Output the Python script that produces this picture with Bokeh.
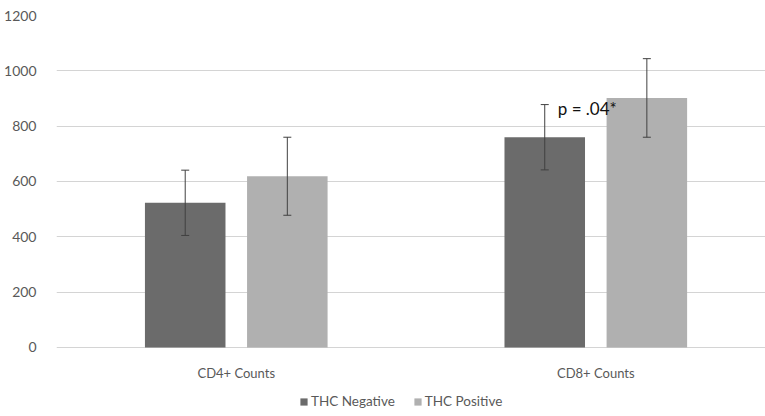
from bokeh.plotting import figure
from bokeh.models import (ColumnDataSource, Whisker, TeeHead, FixedTicker, Legend,
                          LegendItem, Range1d, LinearAxis)
from bokeh.embed import file_html
from bokeh.resources import INLINE
from bokeh.core.properties import value

categories = ["CD4+ Counts", "CD8+ Counts"]
series = ["THC Negative", "THC Positive"]
thc_negative = [523, 760]
thc_negative_err = [118, 118]
thc_positive = [619, 902]
thc_positive_err = [141, 142]
y_ticks = [0, 200, 400, 600, 800, 1000, 1200]
annotation_text = "p = .04*"

FONT = "Lato"
NEG_COLOR = "#6b6b6b"
POS_COLOR = "#b0b0b0"
OFFSET = 0.142
BAR_W = 0.224

centers = [i + 0.5 for i in range(len(categories))]
neg_x = [c - OFFSET for c in centers]
pos_x = [c + OFFSET for c in centers]

src_neg = ColumnDataSource(dict(
    x=neg_x, top=thc_negative,
    upper=[v + e for v, e in zip(thc_negative, thc_negative_err)],
    lower=[v - e for v, e in zip(thc_negative, thc_negative_err)],
))
src_pos = ColumnDataSource(dict(
    x=pos_x, top=thc_positive,
    upper=[v + e for v, e in zip(thc_positive, thc_positive_err)],
    lower=[v - e for v, e in zip(thc_positive, thc_positive_err)],
))

# frame spans to bottom of canvas; value 0 sits 69px above the bottom
p = figure(width=765, height=416, output_backend="svg", toolbar_location=None,
           x_range=Range1d(0, 1.972), y_range=Range1d(-249.4, 1200),
           x_axis_location=None,
           min_border_left=56, min_border_right=0, min_border_top=15, min_border_bottom=0)
p.outline_line_color = None
p.background_fill_color = "white"

r_neg = p.vbar(x="x", top="top", bottom=0, width=BAR_W, source=src_neg,
               fill_color=NEG_COLOR, line_color=None)
r_pos = p.vbar(x="x", top="top", bottom=0, width=BAR_W, source=src_pos,
               fill_color=POS_COLOR, line_color=None)

for src in (src_neg, src_pos):
    w = Whisker(base="x", upper="upper", lower="lower", source=src,
                line_color="#404040", line_width=1, level="overlay",
                upper_head=TeeHead(size=8, line_color="#404040", line_width=1),
                lower_head=TeeHead(size=8, line_color="#404040", line_width=1))
    p.add_layout(w)

# significance annotation next to CD8+ THC Negative whisker top
p.text(x=[neg_x[1]], y=[src_neg.data["upper"][1]], text=[annotation_text],
       x_offset=13, y_offset=4, text_baseline="middle", text_align="left",
       text_font=value(FONT), text_font_size="17px", text_color="#111111")

p.xgrid.grid_line_color = None
p.ygrid.grid_line_color = "#d4d4d4"
p.ygrid.grid_line_width = 1

p.yaxis.ticker = FixedTicker(ticks=y_ticks)
p.yaxis.axis_line_color = None
p.yaxis.major_tick_line_color = None
p.yaxis.minor_tick_line_color = None
p.yaxis.major_label_standoff = 14
p.yaxis.major_label_text_font = FONT
p.yaxis.major_label_text_font_size = "14px"
p.yaxis.major_label_text_color = "#595959"

xaxis = LinearAxis(fixed_location=0)
xaxis.ticker = FixedTicker(ticks=centers)
xaxis.major_label_overrides = {c: lab for c, lab in zip(centers, categories)}
xaxis.axis_line_color = None
xaxis.major_tick_line_color = None
xaxis.minor_tick_line_color = None
xaxis.major_label_standoff = 12
xaxis.major_label_text_font = FONT
xaxis.major_label_text_font_size = "13px"
xaxis.major_label_text_color = "#595959"
p.add_layout(xaxis, "below")

legend = Legend(items=[LegendItem(label=series[0], renderers=[r_neg]),
                       LegendItem(label=series[1], renderers=[r_pos])],
                orientation="horizontal", location=(243, 7),
                glyph_width=9, glyph_height=9, label_standoff=3, spacing=18,
                padding=0, margin=0, label_height=16,
                border_line_color=None, background_fill_alpha=0,
                label_text_font=FONT, label_text_font_size="13.5px",
                label_text_color="#595959")
p.add_layout(legend, "center")

open("out.html", "w").write(file_html(p, INLINE))
